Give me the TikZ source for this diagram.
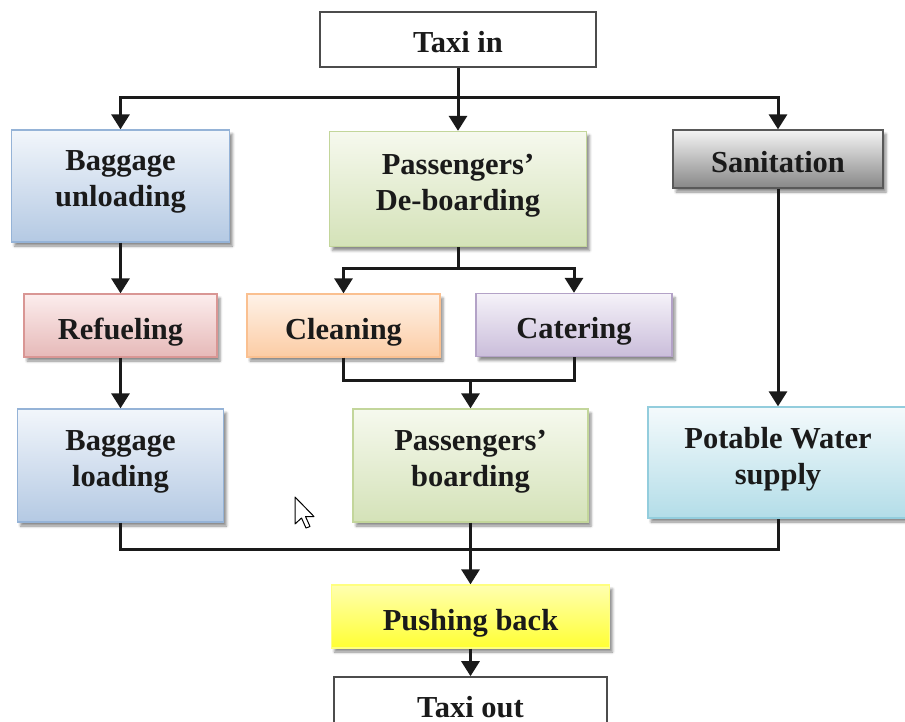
\documentclass[tikz,border=0pt]{standalone}
\usepackage{fontspec}
\setmainfont{Liberation Serif}
\usetikzlibrary{arrows.meta,shadows.blur,calc}

% ink and box palettes
\definecolor{inkc}{HTML}{1A1A1A}
\definecolor{blueE}{HTML}{95B3D7}\definecolor{blueT}{HTML}{F2F6FB}\definecolor{blueB}{HTML}{B4C9E3}
\definecolor{greenE}{HTML}{C3D69B}\definecolor{greenT}{HTML}{F6F9EE}\definecolor{greenB}{HTML}{D4E2B8}
\definecolor{grayE}{HTML}{595959}\definecolor{grayT}{HTML}{F4F4F4}\definecolor{grayB}{HTML}{878787}
\definecolor{pinkE}{HTML}{D99694}\definecolor{pinkT}{HTML}{FCEDED}\definecolor{pinkB}{HTML}{E6B9B8}
\definecolor{orangeE}{HTML}{FAC090}\definecolor{orangeT}{HTML}{FEF2E8}\definecolor{orangeB}{HTML}{FCCCA4}
\definecolor{purpleE}{HTML}{B3A2C7}\definecolor{purpleT}{HTML}{F5F2F9}\definecolor{purpleB}{HTML}{CABDDA}
\definecolor{cyanE}{HTML}{93CDDD}\definecolor{cyanT}{HTML}{F4FAFC}\definecolor{cyanB}{HTML}{B3DDE8}
\definecolor{yelE}{HTML}{FFFF80}\definecolor{yelT}{HTML}{FFFFB0}\definecolor{yelM}{HTML}{FFFF66}\definecolor{yelB}{HTML}{FFFF33}

\tikzset{
  flow/.style={line width=3pt, draw=inkc},
  arr/.style={flow, -{Triangle[width=18pt,length=15pt]}},
  lbl/.style={align=center, text=inkc, font=\fontsize{30.5}{36}\selectfont\bfseries},
  box/.style={lbl, draw, line width=1.3pt, inner sep=0pt,
    blur shadow={shadow xshift=3pt, shadow yshift=-4pt, shadow blur radius=2.5pt, shadow opacity=45}},
  oneline/.style={text height=27pt, text depth=0pt},
  twoline/.style={text depth=14pt},
  plainbox/.style={lbl, draw=black!70, line width=1.6pt, fill=white, inner sep=0pt},
  bluebox/.style={box, draw=blueE, top color=blueT, bottom color=blueB},
  greenbox/.style={box, draw=greenE, top color=greenT, bottom color=greenB},
  graybox/.style={box, draw=grayE, top color=grayT, bottom color=grayB},
  pinkbox/.style={box, draw=pinkE, top color=pinkT, bottom color=pinkB},
  orangebox/.style={box, draw=orangeE, top color=orangeT, bottom color=orangeB},
  purplebox/.style={box, draw=purpleE, top color=purpleT, bottom color=purpleB},
  cyanbox/.style={box, draw=cyanE, top color=cyanT, bottom color=cyanB},
  yellowbox/.style={box, draw=yelE, top color=yelT, middle color=yelM, bottom color=yelB},
}

\begin{document}
\begin{tikzpicture}[x=1pt,y=-1pt]
\useasboundingbox (0,0) rectangle (905,722);
\clip (0,0) rectangle (905,722);

% process boxes
\node[plainbox, oneline, minimum width=276pt, minimum height=55pt] (taxiin) at (458,39.5) {Taxi in};

\node[bluebox, twoline, minimum width=218pt, minimum height=112pt] (bu) at (120.5,186) {Baggage\\unloading};
\node[greenbox, twoline, minimum width=257pt, minimum height=115pt] (deb) at (458,189) {Passengers’\\De-boarding};
\node[graybox, oneline, minimum width=210pt, minimum height=58pt] (san) at (778,159) {Sanitation};

\node[pinkbox, oneline, minimum width=193pt, minimum height=63pt] (ref) at (120.5,325.5) {Refueling};
\node[orangebox, oneline, minimum width=193pt, minimum height=63pt] (cle) at (343.5,325.5) {Cleaning};
\node[purplebox, oneline, minimum width=196pt, minimum height=63pt] (cat) at (574,325) {Catering};

\node[bluebox, twoline, minimum width=206pt, minimum height=113pt] (bl) at (120.5,465.5) {Baggage\\loading};
\node[greenbox, twoline, minimum width=235pt, minimum height=113pt] (pbd) at (470.5,465.5) {Passengers’\\boarding};
\node[cyanbox, twoline, minimum width=260pt, minimum height=111pt] (pw) at (778,462.5) {Potable Water\\supply};

\node[yellowbox, oneline, minimum width=278pt, minimum height=63pt] (push) at (470.5,616.5) {Pushing back};
\node[plainbox, oneline, text height=22pt, minimum width=273pt, minimum height=58pt] (taxiout) at (470.5,706) {Taxi out};

% junction points
\coordinate (jt) at (458,98);
\coordinate (jd) at (458,268);
\coordinate (jc) at (470.5,380);
\coordinate (jb) at (470.5,549);

% connectors
\draw[flow] (taxiin.south) -- (jt);
\draw[arr] (jt) -| (bu.north);
\draw[arr] (jt) -- (deb.north);
\draw[arr] (jt) -| (san.north);

\draw[arr] (bu.south) -- (ref.north);
\draw[arr] (ref.south) -- (bl.north);

\draw[flow] (deb.south) -- (jd);
\draw[arr] (jd) -| (cle.north);
\draw[arr] (jd) -| (cat.north);

\draw[flow] (cle.south) |- (jc) -| (cat.south);
\draw[arr] (jc) -- (pbd.north);

\draw[arr] (san.south) -- (pw.north);

\draw[flow] (bl.south) |- (jb) -| (pw.south);
\draw[arr] (pbd.south) -- (push.north);
\draw[arr] (push.south) -- (taxiout.north);

% mouse pointer
\draw[black, line width=1pt, fill=white, line join=round]
  (295,497) -- ++(0,27) -- ++(6.5,-6) -- ++(4.5,10) -- ++(4,-1.5) -- ++(-4.5,-10) -- ++(8.5,0) -- cycle;
\end{tikzpicture}
\end{document}
